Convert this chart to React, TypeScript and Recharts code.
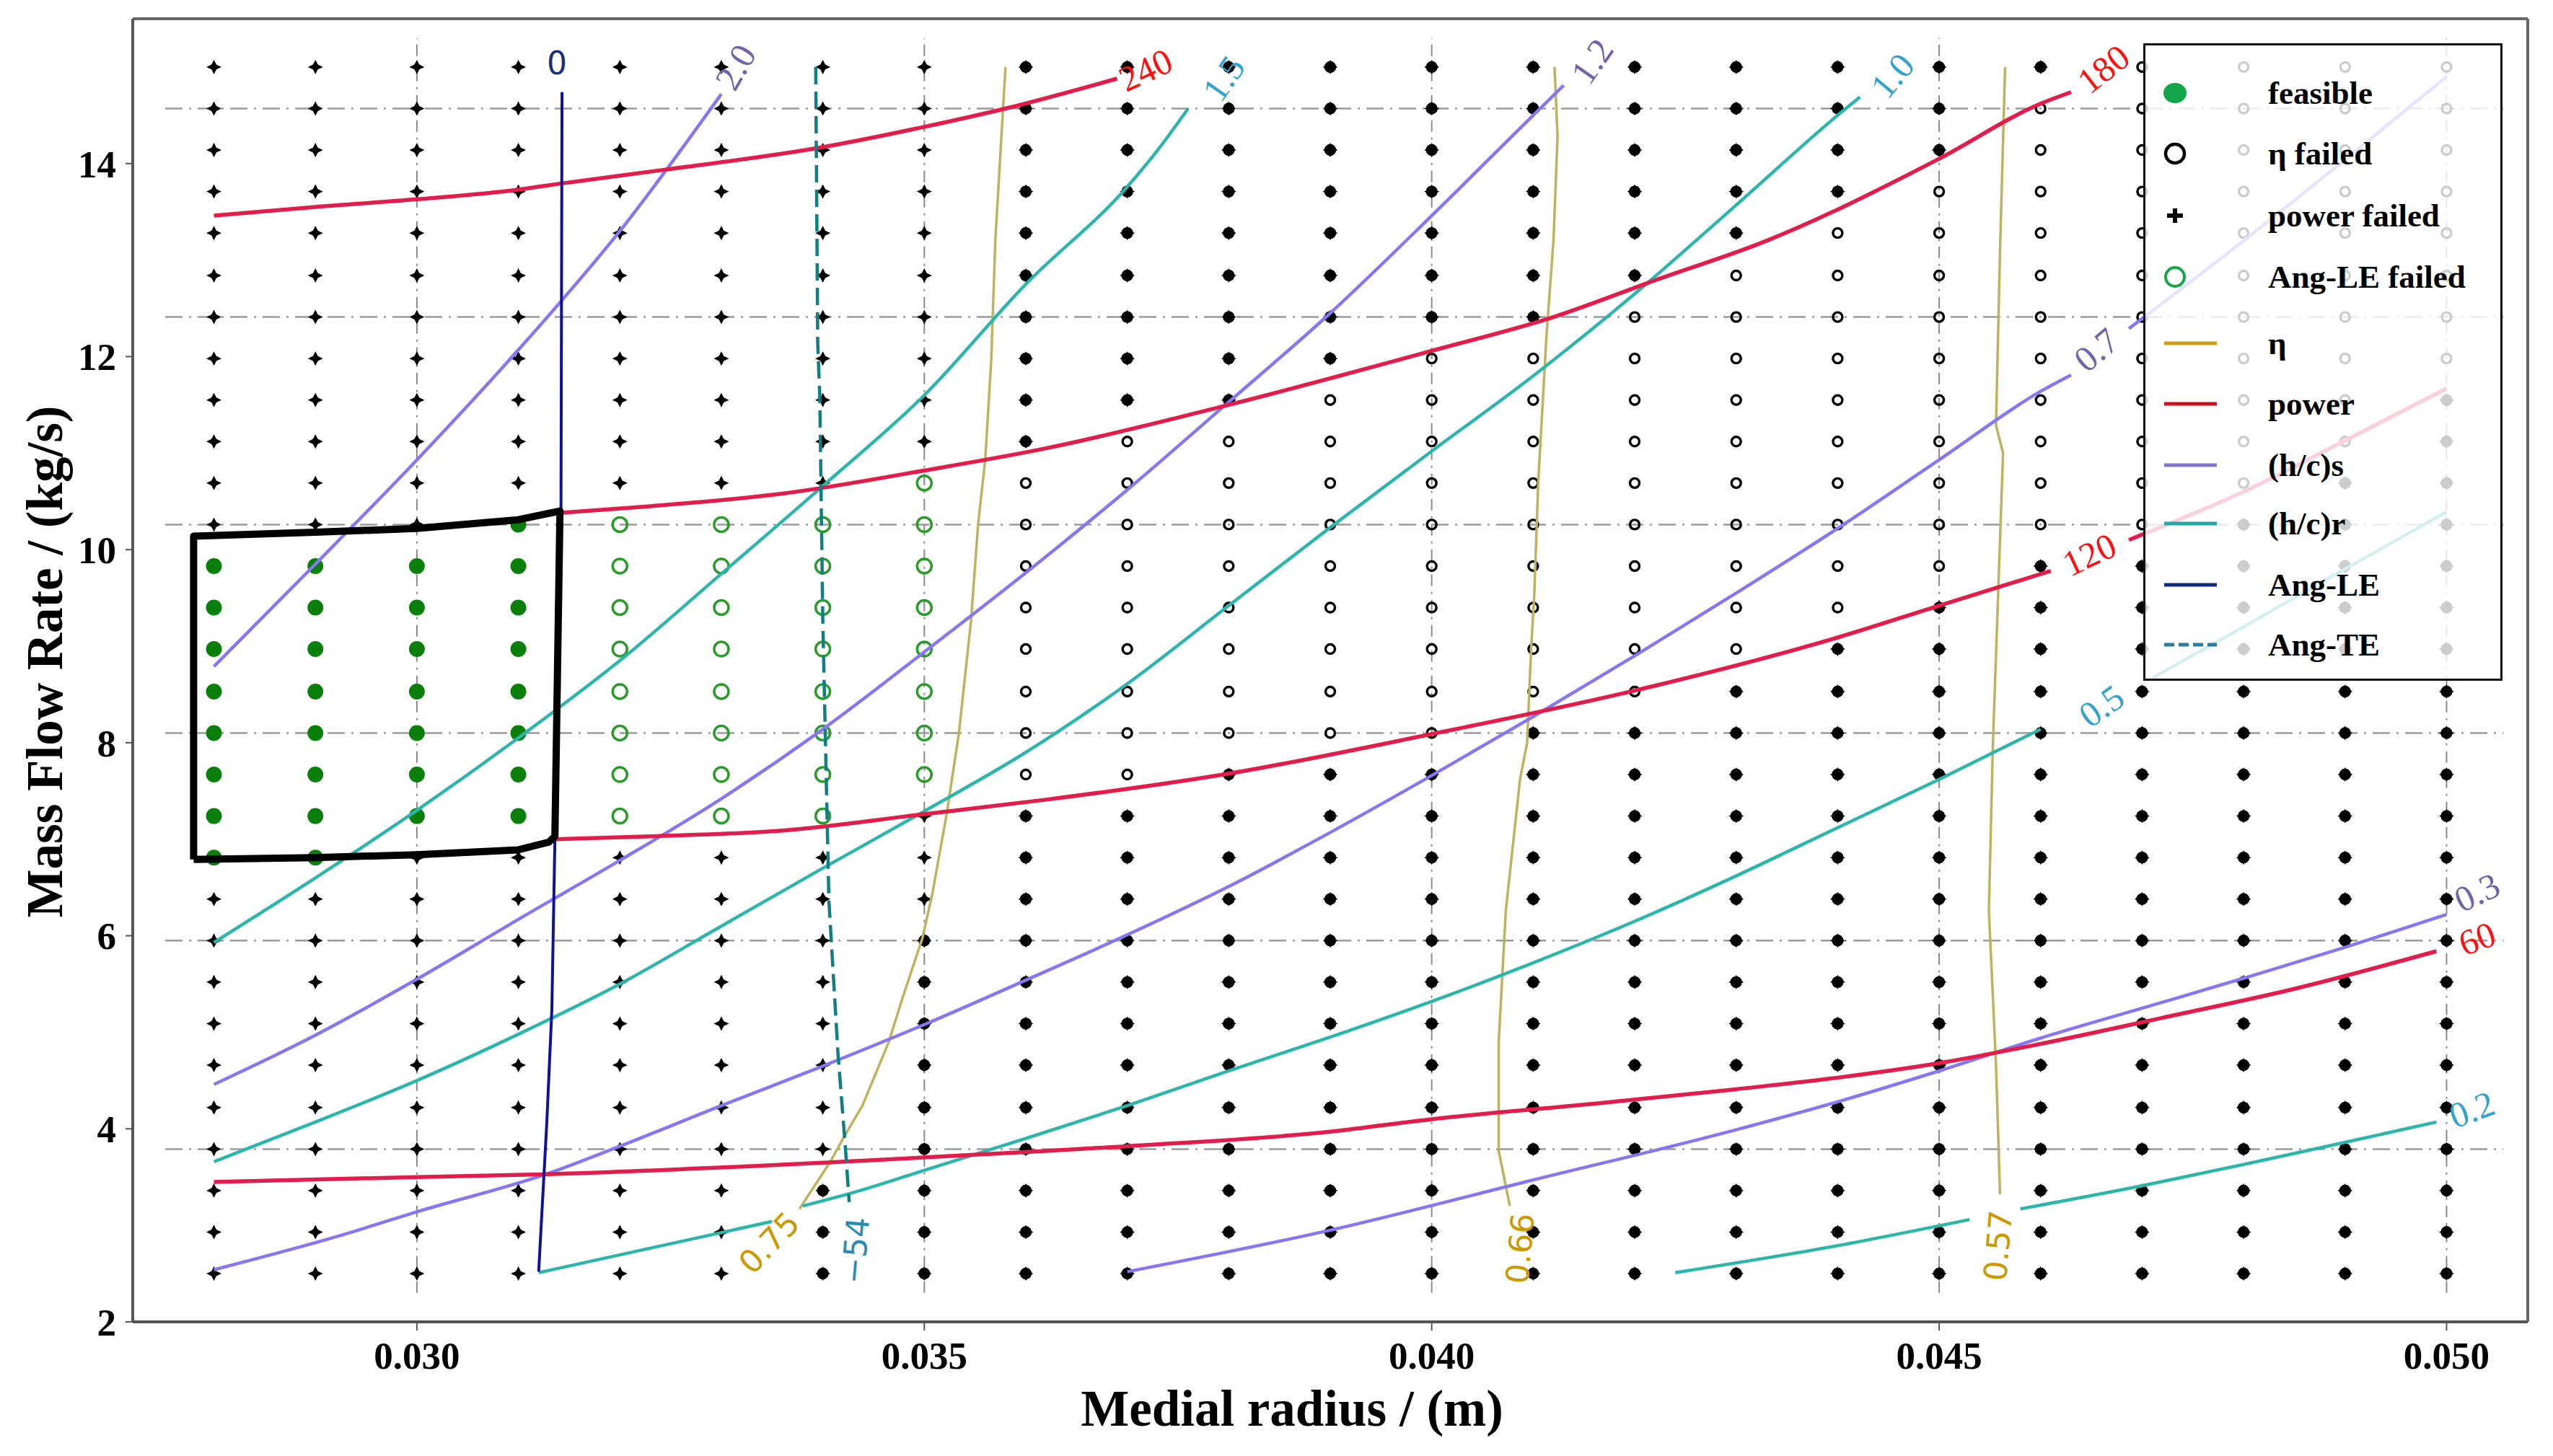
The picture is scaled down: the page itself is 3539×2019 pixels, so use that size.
import { ReferenceLine, Scatter, ScatterChart, XAxis, YAxis } from 'recharts'

const SERIF = "'Liberation Serif', 'Times New Roman', serif"
const SANS = "'DejaVu Sans', sans-serif"

// grid of evaluated designs
const RADIUS = [
  0.028, 0.029, 0.03, 0.031, 0.032, 0.033, 0.034, 0.035, 0.036, 0.037, 0.038, 0.039,
  0.04, 0.041, 0.042, 0.043, 0.044, 0.045, 0.046, 0.047, 0.048, 0.049, 0.05,
]
const FLOW = [
  2.5, 2.93, 3.36, 3.79, 4.22, 4.66, 5.09, 5.52, 5.95, 6.38, 6.81, 7.24, 7.67, 8.1, 8.53,
  8.97, 9.4, 9.83, 10.26, 10.69, 11.12, 11.55, 11.98, 12.41, 12.84, 13.28, 13.71, 14.14,
  14.57, 15.0,
]
// one string per flow row, top row first; one char per radius column
// F feasible, G Ang-LE failed, H eta failed, P power failed, B eta + power failed
const STATUS = [
  'PPPPPPPPBBBBBBBBBBBHHHH',
  'PPPPPPPPBBBBBBBBBBHHHHH',
  'PPPPPPPPBBBBBBBBBBHHHHH',
  'PPPPPPPPBBBBBBBBBHHHHHH',
  'PPPPPPPPBBBBBBBBHHHHHHH',
  'PPPPPPPPBBBBBBBHHHHHHHH',
  'PPPPPPPPBBBBBBHHHHHHHHH',
  'PPPPPPPPBBBBHHHHHHHHHHH',
  'PPPPPPPPBBBHHHHHHHHHHHB',
  'PPPPPPPPBHHHHHHHHHHHHHB',
  'PPPPPPPGHHHHHHHHHHHHHBB',
  'PPPFGGGGHHHHHHHHHHHHBBB',
  'FFFFGGGGHHHHHHHHHHBBBBB',
  'FFFFGGGGHHHHHHHHHBBBBBB',
  'FFFFGGGGHHHHHHHHBBBBBBB',
  'FFFFGGGGHHHHHHHBBBBBBBB',
  'FFFFGGGGHHHHHBBBBBBBBBB',
  'FFFFGGGGHHBBBBBBBBBBBBB',
  'FFFFGGGPBBBBBBBBBBBBBBB',
  'FFPPPPPPBBBBBBBBBBBBBBB',
  'PPPPPPPPBBBBBBBBBBBBBBB',
  'PPPPPPPBBBBBBBBBBBBBBBB',
  'PPPPPPPBBBBBBBBBBBBBBBB',
  'PPPPPPPBBBBBBBBBBBBBBBB',
  'PPPPPPPBBBBBBBBBBBBBBBB',
  'PPPPPPPBBBBBBBBBBBBBBBB',
  'PPPPPPPBBBBBBBBBBBBBBBB',
  'PPPPPPBBBBBBBBBBBBBBBBB',
  'PPPPPPBBBBBBBBBBBBBBBBB',
  'PPPPPPBBBBBBBBBBBBBBBBB',
]

// contour lines, [radius, flow]
const POWER_240 = [[0.028, 13.46], [0.029, 13.55], [0.03, 13.63], [0.031, 13.73], [0.0314, 13.79], [0.0324, 13.93], [0.034, 14.17], [0.035, 14.38], [0.0358, 14.57], [0.0369, 14.88]]
const POWER_180 = [[0.03141, 10.38], [0.0323, 10.45], [0.0336, 10.58], [0.035, 10.82], [0.0362, 11.05], [0.038, 11.5], [0.04, 12.06], [0.0412, 12.41], [0.0422, 12.79], [0.0433, 13.2], [0.045, 14.05], [0.046, 14.62], [0.0463, 14.74]]
const POWER_120_A = [[0.03136, 7.0], [0.0323, 7.03], [0.0336, 7.09], [0.035, 7.26], [0.0362, 7.41], [0.038, 7.68], [0.04, 8.09], [0.042, 8.54], [0.044, 9.09], [0.045, 9.42], [0.0461, 9.78]]
const POWER_120_B = [[0.04687, 10.1], [0.048, 10.6], [0.049, 11.13], [0.05, 11.67]]
const POWER_60 = [[0.028, 3.45], [0.03, 3.5], [0.0313, 3.53], [0.0344, 3.67], [0.0362, 3.77], [0.037, 3.82], [0.039, 3.97], [0.04, 4.1], [0.0415, 4.25], [0.043, 4.41], [0.044, 4.53], [0.045, 4.68], [0.046, 4.88], [0.0472, 5.15], [0.0485, 5.45], [0.0499, 5.84]]

const HCS_20 = [[0.028, 8.79], [0.029, 9.85], [0.03, 10.93], [0.031, 12.07], [0.032, 13.3], [0.033, 14.72]]
const HCS_12 = [[0.028, 4.46], [0.029, 4.97], [0.03, 5.55], [0.031, 6.17], [0.032, 6.78], [0.033, 7.42], [0.034, 8.14], [0.035, 8.94], [0.036, 9.76], [0.037, 10.62], [0.038, 11.53], [0.039, 12.45], [0.04, 13.46], [0.041, 14.5], [0.0413, 14.81]]
const HCS_07_A = [[0.028, 2.54], [0.0292, 2.88], [0.03, 3.14], [0.0313, 3.54], [0.032, 3.82], [0.033, 4.24], [0.034, 4.65], [0.035, 5.08], [0.036, 5.54], [0.037, 6.01], [0.038, 6.51], [0.039, 7.07], [0.04, 7.66], [0.041, 8.27], [0.042, 8.9], [0.043, 9.55], [0.044, 10.22], [0.045, 10.93], [0.046, 11.64], [0.0463, 11.81]]
const HCS_07_B = [[0.04687, 12.29], [0.048, 13.2], [0.049, 14.04], [0.05, 14.9]]
const HCS_03 = [[0.037, 2.52], [0.039, 2.95], [0.041, 3.47], [0.043, 3.99], [0.044, 4.28], [0.045, 4.6], [0.046, 4.94], [0.0471, 5.28], [0.048, 5.56], [0.049, 5.88], [0.05, 6.22]]

const HCR_15 = [[0.028, 5.93], [0.029, 6.6], [0.03, 7.3], [0.031, 8.05], [0.032, 8.85], [0.033, 9.75], [0.034, 10.66], [0.035, 11.6], [0.036, 12.75], [0.037, 13.76], [0.0373, 14.14], [0.0376, 14.57]]
const HCR_10 = [[0.028, 3.66], [0.029, 4.07], [0.03, 4.5], [0.031, 4.98], [0.032, 5.5], [0.033, 6.1], [0.034, 6.7], [0.035, 7.29], [0.036, 7.9], [0.037, 8.61], [0.038, 9.42], [0.039, 10.23], [0.04, 11.02], [0.041, 11.8], [0.042, 12.65], [0.043, 13.57], [0.044, 14.5], [0.04422, 14.69]]
const HCR_05_A = [[0.0312, 2.51], [0.0325, 2.81], [0.0335, 3.04]]
const HCR_05_B = [[0.0338, 3.2], [0.0343, 3.34], [0.035, 3.57], [0.036, 3.9], [0.037, 4.24], [0.038, 4.6], [0.039, 4.95], [0.04, 5.32], [0.041, 5.72], [0.042, 6.15], [0.043, 6.62], [0.044, 7.12], [0.045, 7.62], [0.046, 8.14]]
const HCR_05_C = [[0.0471, 8.67], [0.048, 9.2], [0.049, 9.8], [0.05, 10.39]]
const HCR_02_A = [[0.0424, 2.51], [0.044, 2.79], [0.0453, 3.06]]
const HCR_02_B = [[0.0458, 3.17], [0.047, 3.41], [0.048, 3.63], [0.049, 3.86], [0.0499, 4.07]]

const ETA_075 = [[0.0358, 15.0], [0.0357, 13.21], [0.03566, 11.97], [0.0356, 10.93], [0.03553, 10.26], [0.03546, 9.26], [0.03534, 8.09], [0.03522, 7.26], [0.03508, 6.44], [0.03498, 5.97], [0.03479, 5.37], [0.03465, 4.9], [0.03439, 4.24], [0.0342, 3.9], [0.03408, 3.67], [0.03377, 3.17]]
const ETA_066 = [[0.04121, 15.0], [0.04124, 14.28], [0.0412, 13.21], [0.04113, 12.2], [0.04105, 10.71], [0.04101, 9.52], [0.04098, 8.98], [0.04094, 8.0], [0.04087, 7.62], [0.04073, 6.26], [0.04066, 4.9], [0.04066, 3.77], [0.04077, 3.2]]
const ETA_057 = [[0.04565, 15.0], [0.0456, 13.1], [0.04556, 11.29], [0.04563, 11.0], [0.04553, 8.0], [0.04549, 6.26], [0.04556, 4.67], [0.0456, 3.32]]

const ANG_LE_0 = [[0.03143, 14.74], [0.03142, 10.47], [0.03136, 7.0], [0.03133, 5.24], [0.03128, 4.06], [0.0312, 2.52]]
const ANG_TE_54 = [[0.03393, 15.0], [0.03395, 12.13], [0.03397, 11.59], [0.034, 9.26], [0.03406, 6.36], [0.03415, 4.77], [0.03422, 3.84], [0.03426, 3.24]]

// hand-drawn outline of the feasible region
const FEASIBLE_BOX = [[0.0278, 6.79], [0.0278, 10.14], [0.029, 10.18], [0.03, 10.22], [0.031, 10.31], [0.03141, 10.4], [0.03136, 7.03], [0.0313, 6.97], [0.031, 6.89], [0.03, 6.84], [0.029, 6.81], [0.0278, 6.79]]

const CONTOUR_LABELS = [
  { text: '0', x: 0.03138, y: 15.04 },
  { text: '2.0', x: 0.03314, y: 15.0 },
  { text: '240', x: 0.03718, y: 14.97 },
  { text: '1.5', x: 0.03795, y: 14.88 },
  { text: '1.2', x: 0.04158, y: 15.06 },
  { text: '1.0', x: 0.04454, y: 14.91 },
  { text: '180', x: 0.04662, y: 14.98 },
  { text: '0.7', x: 0.04655, y: 12.07 },
  { text: '120', x: 0.04648, y: 9.95 },
  { text: '0.5', x: 0.0466, y: 8.38 },
  { text: '0.3', x: 0.0503, y: 6.45 },
  { text: '60', x: 0.0503, y: 5.97 },
  { text: '0.2', x: 0.05025, y: 4.2 },
  { text: '0.75', x: 0.03347, y: 2.82 },
  { text: '\u221254', x: 0.03432, y: 2.74 },
  { text: '0.66', x: 0.04087, y: 2.76 },
  { text: '0.57', x: 0.04558, y: 2.79 },
]

const X_TICKS = [0.03, 0.035, 0.04, 0.045, 0.05]
const Y_TICKS = [2, 4, 6, 8, 10, 12, 14]
const H_GRID = [3.79, 5.95, 8.1, 10.26, 12.41, 14.57]

const LABEL_STYLE: Record<string, { angle: number; color: string; sans?: boolean }> = {
  '0': { angle: 0, color: '#1a2f7a', sans: true },
  '2.0': { angle: -60, color: '#7462a8' },
  '240': { angle: -25, color: '#ff1010' },
  '1.5': { angle: -55, color: '#33a3cc' },
  '1.2': { angle: -55, color: '#7462a8' },
  '1.0': { angle: -50, color: '#33a3cc' },
  '180': { angle: -38, color: '#ff1010' },
  '0.7': { angle: -40, color: '#7462a8' },
  '120': { angle: -25, color: '#ff1010' },
  '0.5': { angle: -35, color: '#33a3cc' },
  '0.3': { angle: -25, color: '#7462a8' },
  '60': { angle: -20, color: '#ff1010' },
  '0.2': { angle: -20, color: '#33a3cc' },
  '0.75': { angle: -46, color: '#c99a00', sans: true },
  '\u221254': { angle: -85, color: '#2b8cb0', sans: true },
  '0.66': { angle: -85, color: '#c99a00', sans: true },
  '0.57': { angle: -85, color: '#c99a00', sans: true },
}

const pts = (a: number[][]) => a.map(([x, y]) => ({ x, y }))

const CELLS = STATUS.flatMap((row, i) =>
  row.split('').map((code, j) => ({ x: RADIUS[j], y: FLOW[FLOW.length - 1 - i], code })),
)
const feasible = CELLS.filter((c) => c.code === 'F')
const angFailed = CELLS.filter((c) => c.code === 'G')
const etaFailed = CELLS.filter((c) => c.code === 'H' || c.code === 'B')
const powerFailed = CELLS.filter((c) => c.code === 'P' || c.code === 'B')

const COLORS = {
  power: '#e21d4b',
  hcs: '#8676f0',
  hcr: '#2bb5ab',
  eta: '#bcb45c',
  angLE: '#101098',
  angTE: '#0f7f84',
}

const noDot = () => <g />

function Star({ cx, cy }: any) {
  const o = 10.5
  const v = 10
  const i = 3.4
  const p = [
    [cx, cy - v], [cx + i, cy - i], [cx + o, cy], [cx + i, cy + i],
    [cx, cy + v], [cx - i, cy + i], [cx - o, cy], [cx - i, cy - i],
  ]
  return <polygon points={p.map((q) => q.join(',')).join(' ')} fill="#000" />
}

function ContourLabel({ cx, cy, payload }: any) {
  const s = LABEL_STYLE[payload.text]
  return (
    <text
      x={cx}
      y={cy}
      transform={`rotate(${s.angle} ${cx} ${cy})`}
      textAnchor="middle"
      dominantBaseline="central"
      fill={s.color}
      fontFamily={s.sans ? SANS : SERIF}
      fontSize={s.sans ? 44 : 50}
    >
      {payload.text}
    </text>
  )
}

// smooth = curve is single-valued in x
function contour(key: string, data: number[][], stroke: string, width: number, smooth: boolean, dash?: string) {
  return (
    <Scatter
      key={key}
      data={pts(data)}
      shape={noDot}
      lineJointType={smooth ? 'monotoneX' : 'linear'}
      line={{ stroke, strokeWidth: width, strokeDasharray: dash, strokeLinejoin: 'round', fill: 'none' }}
      isAnimationActive={false}
    />
  )
}

const LEGEND_ROWS = [
  { label: 'feasible', kind: 'feasible', cy: 69 },
  { label: '\u03b7 failed', kind: 'eta', cy: 153 },
  { label: 'power failed', kind: 'plus', cy: 239 },
  { label: 'Ang-LE failed', kind: 'ang', cy: 324 },
  { label: '\u03b7', kind: 'line', color: '#cf9f10', cy: 416 },
  { label: 'power', kind: 'line', color: '#cc1020', cy: 500 },
  { label: '(h/c)s', kind: 'line', color: '#8878c8', cy: 585 },
  { label: '(h/c)r', kind: 'line', color: '#20a8a8', cy: 666 },
  { label: 'Ang-LE', kind: 'line', color: '#102a78', cy: 751 },
  { label: 'Ang-TE', kind: 'dash', color: '#2b7fa6', cy: 834 },
]

function LegendIcon({ kind, color }: { kind: string; color?: string }) {
  return (
    <svg width={110} height={40} style={{ position: 'absolute', left: 0, top: 0 }}>
      {kind === 'feasible' && <ellipse cx={44} cy={20} rx={16} ry={14} fill="#13a64a" />}
      {kind === 'eta' && <circle cx={44} cy={20} r={13} fill="none" stroke="#000" strokeWidth={4.5} />}
      {kind === 'ang' && <circle cx={44} cy={20} r={13} fill="none" stroke="#13a64a" strokeWidth={4} />}
      {kind === 'plus' && <path d="M33 20 H55 M44 10 V30" stroke="#000" strokeWidth={6} />}
      {kind === 'line' && <line x1={29} x2={102} y1={20} y2={20} stroke={color} strokeWidth={5} />}
      {kind === 'dash' && (
        <line x1={29} x2={102} y1={20} y2={20} stroke={color} strokeWidth={5} strokeDasharray="14 6" />
      )}
    </svg>
  )
}

function ChartLegend() {
  return (
    <div
      style={{
        position: 'absolute',
        left: 2971,
        top: 60,
        width: 498,
        height: 884,
        boxSizing: 'border-box',
        border: '3px solid #111',
        background: 'rgba(255,255,255,0.8)',
      }}
    >
      {LEGEND_ROWS.map((r) => (
        <div key={r.label} style={{ position: 'absolute', left: -3, top: r.cy - 23, width: 490, height: 40 }}>
          <LegendIcon kind={r.kind} color={r.color} />
          <span
            style={{
              position: 'absolute',
              left: 173,
              top: 0,
              lineHeight: '40px',
              fontFamily: SERIF,
              fontWeight: 700,
              fontSize: 45,
              color: '#000',
              whiteSpace: 'nowrap',
            }}
          >
            {r.label}
          </span>
        </div>
      ))}
    </div>
  )
}

export default function App() {
  const tickStyle = { fontFamily: SERIF, fontSize: 53, fontWeight: 700, fill: '#000' }
  return (
    <div style={{ position: 'absolute', left: 0, top: 0, width: 3539, height: 2019, background: '#fff' }}>
      <ScatterChart width={3539} height={2019} margin={{ top: 26, right: 35, bottom: 6, left: 4 }}>
        <XAxis
          type="number"
          dataKey="x"
          domain={[0.0272, 0.0508]}
          allowDataOverflow
          ticks={X_TICKS}
          tickFormatter={(v: number) => v.toFixed(3)}
          height={180}
          tick={tickStyle}
          tickSize={12}
          tickMargin={15}
          axisLine={{ stroke: '#555', strokeWidth: 4 }}
          tickLine={{ stroke: '#555', strokeWidth: 2 }}
          label={{
            content: (p: any) => {
              const vb = p.viewBox || { x: 184, y: 1833, width: 3320 }
              return (
                <text
                  x={vb.x + vb.width / 2 - 53}
                  y={vb.y + 144}
                  textAnchor="middle"
                  fontFamily={SERIF}
                  fontWeight={700}
                  fontSize={71}
                  fill="#000"
                >
                  Medial radius / (m)
                </text>
              )
            },
          }}
        />
        <YAxis
          type="number"
          dataKey="y"
          domain={[2, 15.5]}
          allowDataOverflow
          ticks={Y_TICKS}
          width={180}
          tick={tickStyle}
          tickSize={10}
          tickMargin={13}
          axisLine={{ stroke: '#555', strokeWidth: 4 }}
          tickLine={{ stroke: '#555', strokeWidth: 2 }}
          label={{
            content: (p: any) => {
              const vb = p.viewBox || { x: 4, y: 26, height: 1807 }
              const x = vb.x + 82
              const y = vb.y + vb.height / 2 - 12
              return (
                <text
                  x={x}
                  y={y}
                  transform={`rotate(-90 ${x} ${y})`}
                  textAnchor="middle"
                  fontFamily={SERIF}
                  fontWeight={700}
                  fontSize={71}
                  fill="#000"
                >
                  Mass Flow Rate / (kg/s)
                </text>
              )
            },
          }}
        />

        {X_TICKS.map((t) => (
          <ReferenceLine
            key={`v${t}`}
            segment={[{ x: t, y: 2.3 }, { x: t, y: 15.3 }]}
            stroke="#8a8a8a"
            strokeWidth={2}
            strokeDasharray="16 8 3 8"
          />
        ))}
        {H_GRID.map((g) => (
          <ReferenceLine
            key={`h${g}`}
            segment={[{ x: 0.02752, y: g }, { x: 0.05056, y: g }]}
            stroke="#9a9a9a"
            strokeWidth={2.5}
            strokeDasharray="24 9 3 9"
          />
        ))}
        <ReferenceLine y={15.5} stroke="#666" strokeWidth={4} />
        <ReferenceLine x={0.0508} stroke="#666" strokeWidth={4} />

        <Scatter data={powerFailed} shape={(p: any) => <Star cx={p.cx} cy={p.cy} />} isAnimationActive={false} />
        <Scatter
          data={etaFailed}
          shape={(p: any) => <circle cx={p.cx} cy={p.cy} r={6.5} fill="none" stroke="#000" strokeWidth={3.4} />}
          isAnimationActive={false}
        />
        <Scatter
          data={angFailed}
          shape={(p: any) => <circle cx={p.cx} cy={p.cy} r={10} fill="none" stroke="#2a9a2a" strokeWidth={3.5} />}
          isAnimationActive={false}
        />
        <Scatter
          data={feasible}
          shape={(p: any) => <circle cx={p.cx} cy={p.cy} r={11} fill="#0b7f0b" />}
          isAnimationActive={false}
        />

        {contour('e75', ETA_075, COLORS.eta, 3.5, false)}
        {contour('e66', ETA_066, COLORS.eta, 3.5, false)}
        {contour('e57', ETA_057, COLORS.eta, 3.5, false)}
        {contour('r15', HCR_15, COLORS.hcr, 4.5, true)}
        {contour('r10', HCR_10, COLORS.hcr, 4.5, true)}
        {contour('r05a', HCR_05_A, COLORS.hcr, 4.5, true)}
        {contour('r05b', HCR_05_B, COLORS.hcr, 4.5, true)}
        {contour('r05c', HCR_05_C, COLORS.hcr, 4.5, true)}
        {contour('r02a', HCR_02_A, COLORS.hcr, 4.5, true)}
        {contour('r02b', HCR_02_B, COLORS.hcr, 4.5, true)}
        {contour('s20', HCS_20, COLORS.hcs, 4.5, true)}
        {contour('s12', HCS_12, COLORS.hcs, 4.5, true)}
        {contour('s07a', HCS_07_A, COLORS.hcs, 4.5, true)}
        {contour('s07b', HCS_07_B, COLORS.hcs, 4.5, true)}
        {contour('s03', HCS_03, COLORS.hcs, 4.5, true)}
        {contour('p240', POWER_240, COLORS.power, 5.5, true)}
        {contour('p180', POWER_180, COLORS.power, 5.5, true)}
        {contour('p120a', POWER_120_A, COLORS.power, 5.5, true)}
        {contour('p120b', POWER_120_B, COLORS.power, 5.5, true)}
        {contour('p60', POWER_60, COLORS.power, 5.5, true)}
        {contour('le', ANG_LE_0, COLORS.angLE, 4, false)}
        {contour('te', ANG_TE_54, COLORS.angTE, 4.5, false, '24 10')}
        {contour('box', FEASIBLE_BOX, '#000', 10, false)}

        <Scatter data={CONTOUR_LABELS} shape={(p: any) => <ContourLabel {...p} />} isAnimationActive={false} />
      </ScatterChart>
      <ChartLegend />
    </div>
  )
}
